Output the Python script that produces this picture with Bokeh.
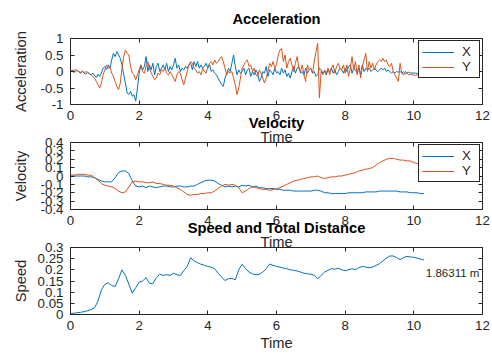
import numpy as np
from bokeh.plotting import figure
from bokeh.models import Range1d, FixedTicker, LinearAxis, CustomJSTickFormatter
from bokeh.layouts import column
from bokeh.embed import file_html
from bokeh.resources import INLINE
from bokeh.core.properties import value

# ---------------- data ----------------
acc_step = 0.05
acc_x = [
    0.0, 0.02, -0.03, 0.01, 0.03, -0.02, -0.05, 0.0, -0.04, -0.08, -0.03, -0.06, -0.1, -0.05, -0.12, -0.18, -0.08, -0.15, -0.05, 0.1,
    0.15, 0.05, 0.2, 0.1, 0.35, 0.55, 0.45, 0.6, 0.5, 0.4, 0.2, -0.1, -0.35, -0.65, -0.7, -0.6, -0.75, -0.7, -0.9, -0.5,
    -0.05, 0.2, 0.05, 0.15, 0.45, 0.0, 0.2, 0.05, 0.25, -0.1, 0.15, 0.25, 0.0, 0.1, 0.2, 0.05, 0.25, 0.0, 0.15, 0.05,
    0.2, 0.4, 0.1, 0.2, 0.0, 0.1, 0.05, 0.15, 0.1, 0.2, 0.25, 0.05, 0.3, 0.15, 0.3, 0.1, 0.2, 0.1, 0.15, 0.25,
    0.1, 0.2, 0.0, 0.05, -0.05, -0.1, -0.2, -0.3, -0.4, -0.45, -0.2, -0.05, 0.1, 0.0, 0.25, 0.5, 0.15, -0.1, 0.05, -0.05,
    0.0, 0.1, -0.1, 0.05, 0.1, -0.15, 0.0, -0.1, 0.05, -0.05, -0.3, -0.2, 0.0, -0.05, 0.15, -0.15, 0.05, 0.0, -0.1, 0.1,
    -0.05, 0.0, -0.1, 0.1, -0.05, 0.05, -0.15, -0.05, -0.2, 0.0, 0.15, -0.05, 0.1, 0.15, -0.05, 0.0, -0.1, 0.1, -0.05, 0.05,
    0.1, -0.05, 0.0, -0.15, -0.1, 0.1, 0.05, -0.05, 0.0, -0.1, 0.05, 0.0, 0.1, -0.05, 0.05, -0.1, 0.0, 0.1, 0.05, -0.05,
    0.1, 0.0, 0.15, 0.2, -0.05, 0.1, 0.05, -0.05, 0.1, -0.1, 0.2, 0.0, 0.1, 0.05, 0.1, 0.0, 0.05, 0.1, 0.05, 0.0,
    0.05, 0.1, 0.05, 0.1, 0.0, 0.05, 0.0, -0.05, 0.0, -0.05, 0.0, -0.02, 0.0, -0.05, -0.1, 0.0, -0.05, -0.02, -0.05, -0.04,
    -0.05, -0.05, -0.06, -0.05, -0.05, -0.06, -0.06,
]
acc_y = [
    0.0, 0.05, 0.03, 0.06, 0.02, 0.0, -0.03, 0.02, -0.05, 0.0, -0.02, -0.08, -0.1, -0.15, -0.2, -0.3, -0.4, -0.5, -0.35, -0.1,
    0.05, 0.2, 0.1, 0.15, -0.05, -0.15, -0.3, -0.45, -0.55, -0.35, 0.1, 0.45, 0.65, 0.55, 0.5, 0.15, -0.05, -0.1, -0.25, -0.1,
    0.05, 0.2, 0.0, -0.05, 0.15, 0.3, 0.1, -0.05, -0.15, -0.25, -0.2, -0.05, -0.1, 0.05, 0.0, 0.1, -0.05, -0.1, 0.0, -0.1,
    -0.2, -0.3, -0.1, 0.0, -0.05, -0.25, -0.4, -0.2, 0.0, 0.2, 0.3, 0.25, 0.1, 0.05, -0.05, 0.0, -0.1, 0.1, 0.0, -0.05,
    0.15, 0.25, 0.3, 0.2, 0.35, 0.25, 0.3, 0.4, 0.45, 0.3, 0.1, -0.1, 0.0, -0.05, 0.0, -0.2, -0.4, -0.7, -0.5, -0.2,
    0.1, 0.2, 0.3, 0.35, 0.15, 0.2, 0.0, 0.1, -0.1, -0.15, 0.05, -0.05, -0.2, -0.35, -0.2, 0.0, 0.25, 0.15, 0.3, 0.1,
    0.2, 0.5, 0.65, 0.7, 0.3, 0.5, 0.1, 0.3, 0.4, 0.2, 0.0, 0.25, 0.45, 0.1, 0.0, 0.2, -0.1, -0.3, 0.2, 0.05,
    0.1, -0.05, 0.3, 0.6, 0.85, -0.8, 0.0, -0.1, 0.05, -0.05, 0.1, -0.1, 0.1, 0.2, -0.05, 0.15, 0.25, 0.1, 0.05, 0.2,
    -0.05, 0.2, -0.15, 0.1, 0.45, 0.05, 0.3, -0.1, 0.2, -0.2, 0.15, 0.35, 0.55, 0.0, 0.3, 0.1, 0.25, 0.05, 0.2, 0.3,
    0.35, 0.3, 0.4, 0.3, 0.35, 0.2, 0.15, 0.25, 0.0, -0.1, -0.2, -0.3, 0.25, -0.05, 0.0, -0.08, -0.05, -0.1, -0.08, -0.1,
    -0.1, -0.12, -0.1, -0.13, -0.12, -0.13, -0.13,
]

vel_step = 0.1
vel_x = [
    0.0, 0.0, 0.0, 0.0, 0.0, -0.01, -0.01, -0.02, -0.04, -0.06,
    -0.07, -0.07, -0.07, -0.02, 0.04, 0.06, 0.06, 0.03, -0.06, -0.12,
    -0.13, -0.12, -0.14, -0.12, -0.13, -0.14, -0.13, -0.12, -0.12, -0.13,
    -0.13, -0.12, -0.12, -0.13, -0.13, -0.12, -0.12, -0.1, -0.08, -0.06,
    -0.05, -0.05, -0.06, -0.09, -0.11, -0.13, -0.12, -0.13, -0.12, -0.13,
    -0.11, -0.12, -0.11, -0.13, -0.12, -0.14, -0.14, -0.15, -0.15, -0.15,
    -0.16, -0.16, -0.17, -0.17, -0.17, -0.18, -0.18, -0.18, -0.18, -0.18,
    -0.18, -0.17, -0.17, -0.18, -0.2, -0.2, -0.21, -0.21, -0.21, -0.21,
    -0.21, -0.2, -0.2, -0.2, -0.2, -0.2, -0.19, -0.19, -0.19, -0.19,
    -0.18, -0.18, -0.18, -0.18, -0.18, -0.18, -0.19, -0.19, -0.19, -0.2,
    -0.2, -0.2, -0.21, -0.21,
]
vel_y = [
    0.01, 0.01, 0.02, 0.02, 0.02, 0.01, 0.01, -0.02, -0.05, -0.09,
    -0.11, -0.12, -0.13, -0.15, -0.18, -0.2, -0.19, -0.13, -0.07, -0.06,
    -0.07, -0.07, -0.08, -0.08, -0.07, -0.09, -0.09, -0.1, -0.11, -0.11,
    -0.12, -0.14, -0.16, -0.19, -0.22, -0.23, -0.22, -0.22, -0.21, -0.21,
    -0.2, -0.2, -0.18, -0.15, -0.12, -0.1, -0.11, -0.1, -0.11, -0.14,
    -0.2, -0.18, -0.15, -0.13, -0.14, -0.15, -0.16, -0.16, -0.17, -0.16,
    -0.15, -0.14, -0.12, -0.1, -0.08, -0.06, -0.05, -0.04, -0.03, -0.02,
    -0.01, -0.01, 0.0, -0.02, -0.03, -0.02, -0.01, -0.01, 0.0, 0.0,
    0.01, 0.02, 0.03, 0.04, 0.06, 0.07, 0.08, 0.09, 0.1, 0.13,
    0.16, 0.18, 0.2, 0.21, 0.21, 0.2, 0.19, 0.19, 0.18, 0.18,
    0.16, 0.15, 0.14, 0.13,
]
speed = [
    0.003, 0.006, 0.008, 0.01, 0.013, 0.017, 0.022, 0.03, 0.06, 0.11,
    0.135, 0.142, 0.13, 0.125, 0.16, 0.2, 0.175, 0.135, 0.095, 0.12,
    0.145, 0.15, 0.165, 0.14, 0.138, 0.165, 0.18, 0.175, 0.178, 0.175,
    0.185, 0.178, 0.175, 0.197, 0.215, 0.254, 0.24, 0.232, 0.225, 0.22,
    0.215, 0.212, 0.205, 0.185, 0.168, 0.152, 0.16, 0.162, 0.155, 0.2,
    0.225, 0.205, 0.19, 0.182, 0.178, 0.18, 0.19, 0.205, 0.226, 0.22,
    0.215, 0.212, 0.208, 0.205, 0.2, 0.198, 0.195, 0.19, 0.185, 0.182,
    0.18, 0.176, 0.16, 0.175, 0.19, 0.198, 0.205, 0.203, 0.207, 0.2,
    0.197, 0.2, 0.205, 0.2, 0.21, 0.215, 0.212, 0.21, 0.212, 0.22,
    0.228, 0.24, 0.252, 0.262, 0.262, 0.255, 0.246, 0.255, 0.26, 0.258,
    0.256, 0.252, 0.248, 0.244,
]
distance_text = "1.86311 m"
distance_pos = (10.35, 0.184)

x_ticks = [0, 2, 4, 6, 8, 10, 12]
acc_ticks = [-1, -0.5, 0, 0.5, 1]
vel_ticks = [-0.4, -0.3, -0.2, -0.1, 0, 0.1, 0.2, 0.3, 0.4]
speed_ticks = [0, 0.05, 0.1, 0.15, 0.2, 0.25, 0.3]

t_acc = np.round(np.arange(len(acc_x)) * acc_step, 2)
t_vel = np.round(np.arange(len(vel_x)) * vel_step, 2)

# ---------------- style ----------------
FONT = "Liberation Sans"
AX = "#262626"
BLUE = "#0072BD"
ORANGE = "#D95319"
TICK_FS = "13.3px"
LABEL_FS = "14.7px"


def style_axis(ax, ticks, show_labels=True):
    ax.ticker = FixedTicker(ticks=ticks)
    ax.axis_line_color = None
    ax.major_tick_in = 4
    ax.major_tick_out = 0
    ax.major_tick_line_color = AX
    ax.minor_tick_line_color = None
    ax.major_label_text_font = FONT
    ax.major_label_text_color = AX
    if show_labels:
        ax.formatter = CustomJSTickFormatter(code="return String(Math.round(tick*1000)/1000);")
        ax.major_label_text_font_size = TICK_FS
        ax.major_label_standoff = 6
    else:
        ax.formatter = CustomJSTickFormatter(code="return '';")
        ax.major_label_text_font_size = "1px"
        ax.major_label_standoff = 0


def make_fig(height, top, bottom, ylim, yticks, title, ylabel, ylab_standoff, xlab_standoff, margin):
    p = figure(width=492, height=height, x_range=Range1d(0, 12), y_range=Range1d(*ylim),
               output_backend="svg", toolbar_location=None,
               min_border_left=70, min_border_right=10,
               min_border_top=top, min_border_bottom=bottom, margin=margin)
    p.border_fill_color = None
    p.background_fill_color = "white"
    p.outline_line_color = AX
    p.outline_line_alpha = 1
    p.outline_line_width = 1
    p.xgrid.visible = False
    p.ygrid.visible = False
    # title
    p.title.text = title
    p.title.align = "center"
    p.title.vertical_align = "top"
    p.title.text_font = FONT
    p.title.text_font_size = LABEL_FS
    p.title.text_font_style = "bold"
    p.title.text_color = "black"
    p.title.standoff = 20
    # bottom / left axes
    xa = p.xaxis[0]
    style_axis(xa, x_ticks)
    xa.axis_label = "Time"
    xa.axis_label_text_font = FONT
    xa.axis_label_text_font_size = LABEL_FS
    xa.axis_label_text_font_style = "normal"
    xa.axis_label_text_color = AX
    xa.axis_label_standoff = xlab_standoff
    ya = p.yaxis[0]
    style_axis(ya, yticks)
    ya.major_label_standoff = 7
    ya.axis_label = ylabel
    ya.axis_label_text_font = FONT
    ya.axis_label_text_font_size = LABEL_FS
    ya.axis_label_text_font_style = "normal"
    ya.axis_label_text_color = AX
    ya.axis_label_standoff = ylab_standoff
    # box ticks on top and right
    top_ax = LinearAxis()
    style_axis(top_ax, x_ticks, False)
    p.add_layout(top_ax, "above")
    right_ax = LinearAxis()
    style_axis(right_ax, yticks, False)
    p.add_layout(right_ax, "right")
    return p


def style_legend(p):
    lg = p.legend[0]
    lg.location = "top_right"
    lg.margin = 2
    lg.padding = 3
    lg.spacing = 0
    lg.label_height = 12
    lg.glyph_height = 12
    lg.glyph_width = 32
    lg.label_width = 14
    lg.label_standoff = 8
    lg.label_text_font = FONT
    lg.label_text_font_size = TICK_FS
    lg.label_text_color = AX
    lg.border_line_color = AX
    lg.border_line_width = 1
    lg.border_line_alpha = 1
    lg.background_fill_color = "white"
    lg.background_fill_alpha = 1


# ---- Acceleration ----
p1 = make_fig(149, 37, 45, (-1, 1), acc_ticks, "Acceleration", "Acceleration", 9, 6, None)
p1.line(t_acc, acc_x, line_color=BLUE, line_width=1, legend_label="X")
p1.line(t_acc, acc_y, line_color=ORANGE, line_width=1, legend_label="Y")
style_legend(p1)

# ---- Velocity ----
p2 = make_fig(150, 38, 45, (-0.4, 0.4), vel_ticks, "Velocity", "Velocity", 9, 6, (-45, 0, 0, 0))
p2.line(t_vel, vel_x, line_color=BLUE, line_width=1, legend_label="X")
p2.line(t_vel, vel_y, line_color=ORANGE, line_width=1, legend_label="Y")
style_legend(p2)

# ---- Speed ----
p3 = make_fig(144, 38, 39, (0, 0.3), speed_ticks, "Speed and Total Distance", "Speed", 6, 2, (-45, 0, 0, 0))
p3.line(t_vel, speed, line_color=BLUE, line_width=1)
p3.text(x=[distance_pos[0]], y=[distance_pos[1]], text=[distance_text],
        text_font=value(FONT), text_font_size="11.5px", text_color=AX,
        text_align="left", text_baseline="middle")

layout = column(p1, p2, p3)
open("out.html", "w").write(file_html(layout, INLINE))
